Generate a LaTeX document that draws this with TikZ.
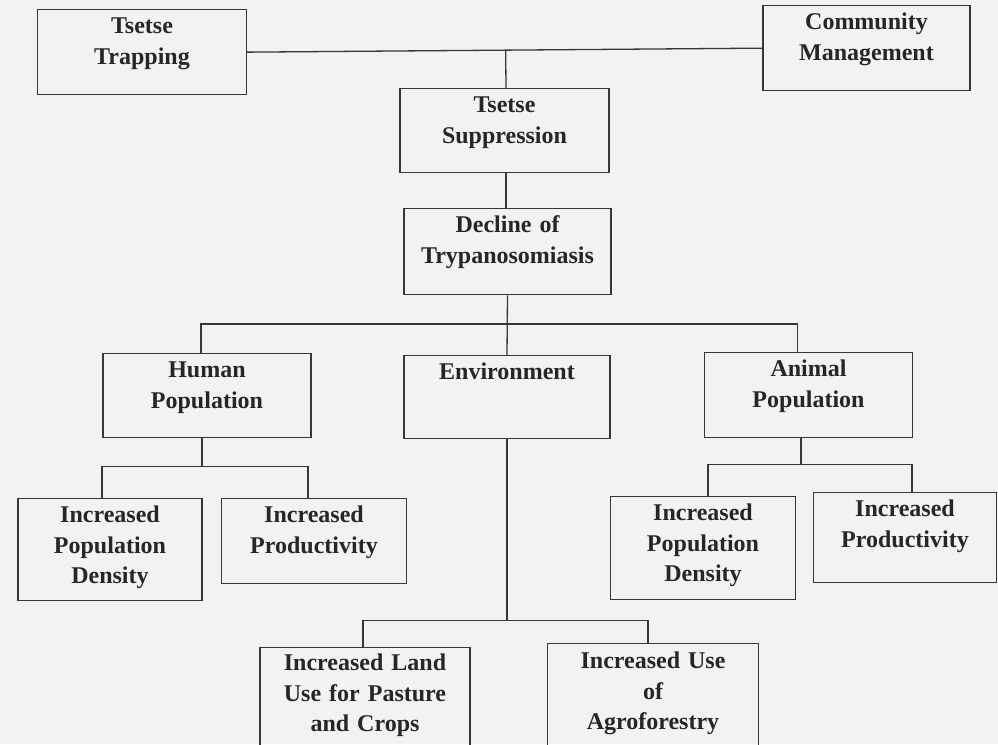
\documentclass[tikz,border=0pt]{standalone}
\usepackage{fontspec}
\setmainfont{Liberation Serif}
\usetikzlibrary{calc}
\definecolor{paper}{RGB}{242,242,242}
\definecolor{ink}{RGB}{55,55,55}
\tikzset{
  block/.style={
    draw = ink,
    line width = 1.3pt,
    anchor = north,
    align = center,
    inner sep = 0pt,
    text width = 207pt,
    text height = 24pt,
    text depth = 60pt,
    text = black!85,
    font = \bfseries\fontsize{24}{30.5}\selectfont
  },
  smallblock/.style={
    block,
    text width = 184pt
  },
  tallblock/.style={
    text depth = 78pt
  },
  link/.style={
    draw = ink,
    line width = 1.3pt
  }
}
\begin{document}
\begin{tikzpicture}[x=1pt,y=-1pt]
  \useasboundingbox (0,0) rectangle (998,744);
  \clip (0,0) rectangle (998,744);
  \fill[paper] (0,0) rectangle (998,744);

  % top row
  \node[block,text width=209pt,text depth=61pt] (trap) at (142,9) {Tsetse\\Trapping};
  \node[block,text depth=61pt] (comm) at (866.5,5) {Community\\Management};
  \node[block,text width=209pt] (supp) at (504.5,88) {Tsetse\\Suppression};
  \node[block,text depth=62pt] (decl) at (507.5,208) {Decline of\\Trypanosomiasis};

  % middle row
  \node[block,text width=208pt] (hum) at (207,353) {Human\\Population};
  \node[block,text width=206pt,text depth=59pt] (env) at (507,355) {Environment};
  \node[block,text width=208pt,text depth=61pt] (ani) at (808.5,352) {Animal\\Population};

  % bottom rows
  \node[smallblock,tallblock] (hdens) at (110,498) {Increased\\Population\\Density};
  \node[smallblock,text width=185pt,text depth=61pt] (hprod) at (314,498) {Increased\\Productivity};
  \node[smallblock,tallblock,text width=185pt,text depth=79pt] (adens) at (703,496) {Increased\\Population\\Density};
  \node[smallblock,text width=183pt,text depth=66pt] (aprod) at (905,492) {Increased\\Productivity};
  \node[block,text width=210pt,text height=23pt,text depth=110pt] (land) at (365,647) {Increased Land\\Use for Pasture\\and Crops};
  \node[block,text width=211pt,text height=25pt,text depth=110pt] (agro) at (653,643) {Increased Use\\of\\Agroforestry};

  % connectors
  \draw[link] (trap.east) -- (comm.west);
  \draw[link] ([xshift=1.5pt]supp.north) -- ($(trap.east)!([xshift=1.5pt]supp.north)!(comm.west)$);
  \draw[link] ([xshift=-1.5pt]decl.north) -- ([xshift=-1.5pt]decl.north |- supp.south);
  \draw[link] (decl.south) -- (env.north);
  \draw[link] ([xshift=-6pt]hum.north) -- ++(0,-29) -| ([xshift=-11pt]ani.north);

  \draw[link] ([xshift=-5pt]hum.south) -- ++(0,28) coordinate (hbar);
  \draw[link] ([xshift=-8pt]hdens.north) |- (hbar) -| ([xshift=-6pt]hprod.north);

  \draw[link] (env.south) -- ++(0,181) coordinate (ebar);
  \draw[link] ([xshift=-2pt]land.north) |- (ebar) -| ([xshift=-5pt]agro.north);

  \draw[link] ([xshift=-7.5pt]ani.south) -- ++(0,26) coordinate (abar);
  \draw[link] ([xshift=5pt]adens.north) |- (abar) -| ([xshift=7pt]aprod.north);
\end{tikzpicture}
\end{document}
